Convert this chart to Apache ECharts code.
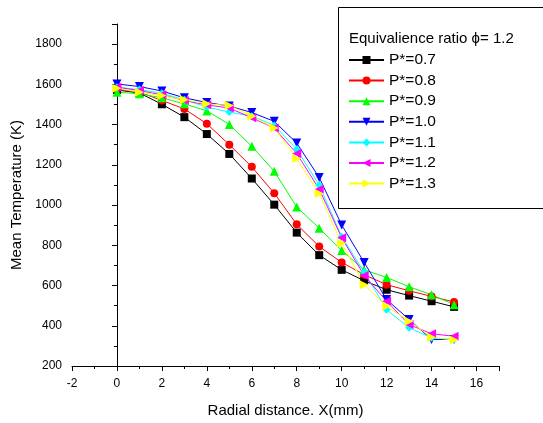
<!DOCTYPE html>
<html>
<head>
<meta charset="utf-8">
<script src="https://cdn.jsdelivr.net/npm/echarts@6/dist/echarts.min.js"></script>
<style>
    html, body {margin: 0; padding: 0; background: #fff;}
    #chart {width: 543px; height: 423px;}
</style>
</head>
<body>
<div id="chart"></div>
<script>
// radial positions (mm)
const xValues = [0, 1, 2, 3, 4, 5, 6, 7, 8, 9, 10, 11, 12, 13, 14, 15];
// mean temperature (K) per P*
const p07 = [1572, 1557, 1501, 1437, 1353, 1254, 1132, 1002, 863, 751, 678, 624, 579, 550, 522, 494];
const p08 = [1577, 1561, 1520, 1478, 1404, 1300, 1190, 1059, 904, 794, 715, 654, 604, 574, 546, 518];
const p09 = [1561, 1553, 1533, 1503, 1468, 1401, 1292, 1168, 990, 885, 774, 678, 640, 594, 554, 505];
const p10 = [1602, 1589, 1567, 1533, 1510, 1492, 1460, 1416, 1308, 1137, 901, 715, 530, 431, 332, 332];
const p11 = [1586, 1574, 1556, 1523, 1487, 1462, 1442, 1396, 1277, 1099, 843, 667, 480, 390, 340, 332];
const p12 = [1586, 1569, 1548, 1520, 1498, 1482, 1434, 1383, 1256, 1079, 838, 650, 522, 406, 360, 348];
const p13 = [1581, 1561, 1544, 1523, 1503, 1495, 1442, 1383, 1231, 1058, 810, 604, 497, 423, 343, 329];

const seriesNames = ['P*=0.7', 'P*=0.8', 'P*=0.9', 'P*=1.0', 'P*=1.1', 'P*=1.2', 'P*=1.3'];
const seriesData = [p07, p08, p09, p10, p11, p12, p13];
const seriesColors = ['#000000', '#ff0000', '#00ff00', '#0000ff', '#00ffff', '#ff00ff', '#ffff00'];
const seriesSymbols = ['rect', 'circle', 'triangle', 'triangle', 'diamond', 'triangle', 'triangle'];
const seriesRotate = [0, 0, 0, 180, 0, 90, -90];

const font = 'Liberation Sans, Arial, sans-serif';

const chart = echarts.init(document.getElementById('chart'));

const series = seriesNames.map((name, i) => ({
    name,
    type: 'line',
    data: xValues.map((x, j) => [x, seriesData[i][j]]),
    symbol: seriesSymbols[i],
    symbolRotate: seriesRotate[i],
    symbolSize: seriesSymbols[i] === 'triangle' ? 9 : 8,
    showAllSymbol: true,
    color: seriesColors[i],
    lineStyle: {width: 1, color: seriesColors[i]},
    itemStyle: {color: seriesColors[i]},
    emphasis: {disabled: true},
    animation: false,
}));

const option = {
    animation: false,
    grid: {left: 72, right: 44, top: 24, bottom: 55},
    xAxis: {
        type: 'value',
        min: -2,
        max: 17,
        interval: 2,
        name: 'Radial distance. X(mm)',
        nameLocation: 'middle',
        nameGap: 37,
        nameTextStyle: {fontFamily: font, fontSize: 15, color: '#000'},
        axisLine: {lineStyle: {color: '#000', width: 1}},
        axisTick: {length: 5, lineStyle: {color: '#000'}},
        minorTick: {show: true, splitNumber: 2, length: 3, lineStyle: {color: '#000'}},
        axisLabel: {fontFamily: font, fontSize: 12, color: '#000', margin: 12, showMaxLabel: false,
            formatter: v => String(v)},
        splitLine: {show: false},
    },
    yAxis: {
        type: 'value',
        min: 200,
        max: 1900,
        interval: 200,
        name: 'Mean Temperature (K)',
        nameLocation: 'middle',
        nameGap: 48,
        nameTextStyle: {fontFamily: font, fontSize: 15, color: '#000'},
        axisLine: {show: true, lineStyle: {color: '#000', width: 1}},
        axisTick: {show: true, length: 5, lineStyle: {color: '#000'}},
        minorTick: {show: true, splitNumber: 2, length: 3, lineStyle: {color: '#000'}},
        axisLabel: {fontFamily: font, fontSize: 12, color: '#000', margin: 10, showMaxLabel: false,
            formatter: v => String(v)},
        splitLine: {show: false},
    },
    legend: {
        orient: 'vertical',
        left: 348,
        top: 51,
        padding: 0,
        itemWidth: 35,
        itemHeight: 10,
        itemGap: 2.6,
        data: seriesNames,
        textStyle: {fontFamily: font, fontSize: 15.5, color: '#000', lineHeight: 18},
    },
    graphic: [
        {
            type: 'rect',
            left: 338,
            top: 7,
            shape: {width: 220, height: 201},
            style: {fill: '#fff', stroke: '#000', lineWidth: 1},
            z: -1,
        },
        {
            type: 'text',
            left: 349,
            top: 31,
            style: {text: 'Equivalience ratio \u03d5= 1.2', font: '15px ' + font, fill: '#000'},
        },
    ],
    series,
};

chart.setOption(option);
</script>
</body>
</html>
